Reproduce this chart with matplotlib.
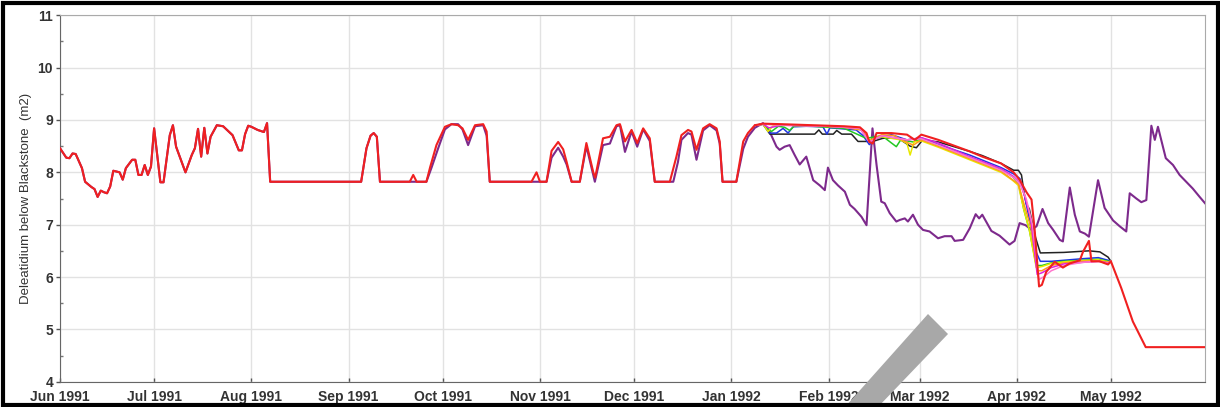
import numpy as np
import matplotlib
matplotlib.use("Agg")
import matplotlib.pyplot as plt
import matplotlib.dates as mdates
from matplotlib.patches import Rectangle, Polygon
from matplotlib.ticker import MultipleLocator

plt.rcParams['font.family'] = ['Liberation Sans', 'DejaVu Sans']

START = '1991-06-01'   # day 0 of all day lists below
END_DAY = 365          # 31 May 1992

# ---- common trace (all scenarios identical), Jun - Sep 1991 ----
common_day = [0, 2, 3, 4, 5, 7, 8, 10, 11, 12, 13, 14, 15, 16, 17, 19, 20, 21, 23, 24,
              25, 26, 27, 28, 29, 30, 32, 33, 35, 36, 37, 40, 42, 43, 44, 45, 46, 47,
              48, 50, 52, 55, 57, 58, 59, 60, 61, 63, 65, 66, 67, 96, 97.7, 99, 100,
              101, 102]
common_val = [8.46, 8.28, 8.27, 8.36, 8.35, 8.08, 7.82, 7.72, 7.68, 7.53, 7.65, 7.62, 7.60,
              7.73, 8.03, 8.00, 7.86, 8.08, 8.24, 8.24, 7.95, 7.95, 8.14, 7.95, 8.11, 8.84,
              7.81, 7.81, 8.71, 8.90, 8.49, 8.00, 8.33, 8.46, 8.83, 8.30, 8.85, 8.36, 8.68,
              8.90, 8.88, 8.71, 8.42, 8.42, 8.73, 8.89, 8.87, 8.81, 8.77, 8.94, 7.82, 7.82,
              8.46, 8.70, 8.75, 8.68, 7.82]

# ---- red scenario ----
red_day = [111.5, 112.6, 113.7, 116.8, 118, 120, 122.7, 124.8, 126.9, 128.3, 130.1, 132.3,
           134.9, 136, 137, 150.3, 151.9, 153, 155.1, 156.7, 158.8, 160.4, 161.5, 163.1,
           165.7, 167.8, 170, 170.6, 173.1, 175.3, 177.4, 178.5, 180.1, 182.2, 184, 185.9,
           188, 189.6, 194.4, 196.5, 198.1, 200.2, 201.3, 202.9, 205, 207.1, 209.3, 210.3,
           211.2, 215.6, 217.8, 219.3, 221.5, 224.1, 230, 240, 250, 255, 257.1, 258, 259.1,
           260.3, 265, 270, 272.5, 274.6, 280, 290, 294, 300, 304, 306, 308.1, 309.7, 310.7,
           312.1, 313, 314.4, 317.1, 319.7, 321.9, 325.1, 326.1, 328, 328.8, 331.4, 334.1,
           335, 338.3, 342, 346.1, 365]
red_val = [7.82, 7.95, 7.82, 7.82, 8.10, 8.52, 8.87, 8.92, 8.90, 8.84, 8.62, 8.90,
           8.92, 8.78, 7.82, 7.82, 8.00, 7.82, 7.82, 8.41, 8.58, 8.44, 8.20, 7.82,
           7.82, 8.56, 8.00, 7.90, 8.65, 8.68, 8.90, 8.92, 8.59, 8.81, 8.56, 8.84,
           8.65, 7.82, 7.82, 8.30, 8.71, 8.81, 8.78, 8.43, 8.84, 8.92, 8.84, 8.59,
           7.82, 7.82, 8.59, 8.75, 8.90, 8.93, 8.92, 8.90, 8.88, 8.86, 8.75, 8.58, 8.55,
           8.75, 8.75, 8.72, 8.62, 8.72, 8.62, 8.40, 8.30, 8.17, 8.00, 7.85, 7.62, 7.48, 6.90,
           5.82, 5.85, 6.10, 6.29, 6.18, 6.26, 6.32, 6.48, 6.69, 6.30, 6.30, 6.24,
           6.30, 5.79, 5.15, 4.66, 4.66]

# ---- purple scenario ----
purple_day = [116.8, 118.5, 120.5, 122.7, 124.8, 126.9, 128.3, 130.1, 132.3, 134.9, 136, 137,
              155.1, 156.7, 158.8, 160.4, 161.5, 163.1, 165.7, 167.8, 170.5, 173.1, 175.3,
              177.4, 178.5, 180.1, 182.2, 184, 185.9, 188, 189.6, 195.5, 197, 198.1, 200.2,
              201.3, 202.9, 205, 207.1, 209.3, 210.3, 211.2, 215.6, 217.8, 219.3, 221.5,
              224.1, 226.2, 228.4, 229.4, 231, 232.6, 234.2, 235.8, 237.9, 240.1, 242.2,
              243.8, 244.8, 246.4, 248, 250.2, 251.8, 253.3, 255.5, 257.1, 259, 260.3, 261.8,
              262.9, 264.5, 266.6, 267.7, 269.3, 270.3, 271.9, 273.5, 275.1, 277.2, 279.9,
              282, 284.2, 285.2, 287.9, 290, 291.9, 293, 294, 296.9, 299.5, 302.7, 304.3,
              305.9, 307.8, 309.7, 311.3, 313.2, 315, 316.6, 318.7, 319.7, 321.9, 323.5,
              325.1, 326.7, 328, 330.9, 333, 335.7, 337.8, 339.9, 341, 343.1, 344.7, 346.3,
              347.9, 349, 350, 352.5, 354.8, 356.9, 359, 361.1, 363.3, 365]
purple_val = [7.82, 8.10, 8.45, 8.82, 8.92, 8.92, 8.82, 8.52, 8.88, 8.90, 8.70, 7.82,
              7.82, 8.28, 8.47, 8.30, 8.15, 7.82, 7.82, 8.50, 7.82, 8.52, 8.55,
              8.88, 8.90, 8.39, 8.78, 8.49, 8.82, 8.60, 7.82, 7.82, 8.20, 8.62, 8.75,
              8.72, 8.24, 8.80, 8.90, 8.80, 8.55, 7.82, 7.82, 8.45, 8.68, 8.85,
              8.94, 8.78, 8.49, 8.43, 8.49, 8.52, 8.33, 8.15, 8.30, 7.85, 7.75,
              7.66, 8.09, 7.85, 7.75, 7.63, 7.38, 7.30, 7.15, 6.99, 8.84, 8.14, 7.44,
              7.41, 7.22, 7.06, 7.09, 7.12, 7.06, 7.19, 7.00, 6.90, 6.87, 6.74,
              6.78, 6.78, 6.69, 6.71, 6.93, 7.20, 7.12, 7.19, 6.88, 6.79, 6.62, 6.69,
              7.03, 6.99, 6.90, 6.97, 7.30, 7.03, 6.90, 6.71, 6.68, 7.71, 7.19,
              6.87, 6.83, 6.77, 7.85, 7.32, 7.08, 6.97, 6.87, 7.60, 7.50, 7.43, 7.47,
              8.89, 8.62, 8.87, 8.27, 8.14, 7.95, 7.82, 7.69, 7.53, 7.41]

# ---- other scenarios, Jan - May 1992 (identical to red before) ----
black_day = [221.5, 224.1, 226.3, 240.6, 241.9, 243.0, 246.5, 247.6, 249.2, 252.3, 254.4,
             259.1, 262.3, 266.0, 268.0, 271.0, 273.0, 275.0, 280.0, 290.0, 294.0, 300.0,
             304.0, 305.5, 306.5, 307.3, 308.0, 309.0, 311.0, 312.5, 320.0, 328.0, 331.5,
             334.1, 335.0]
black_val = [8.90, 8.92, 8.73, 8.73, 8.81, 8.73, 8.73, 8.80, 8.73, 8.73, 8.59,
             8.59, 8.65, 8.66, 8.62, 8.50, 8.47, 8.62, 8.58, 8.40, 8.32, 8.17,
             8.04, 8.04, 7.95, 7.62, 7.40, 7.30, 6.75, 6.46, 6.47, 6.50, 6.48,
             6.38, 6.30]

blue_day = [221.5, 224.1, 226.3, 228.4, 230.5, 232.1, 233.7, 237.9, 243.2, 244.5, 245.4,
            253.8, 256.0, 258.0, 260.1, 265.0, 270.0, 274.6, 280.0, 290.0, 300.0, 304.0,
            306.0, 307.5, 309.0, 311.0, 312.5, 316.0, 320.0, 326.0, 331.0, 334.1, 335.0]
blue_val = [8.90, 8.92, 8.75, 8.75, 8.84, 8.75, 8.87, 8.88, 8.87, 8.73, 8.85,
            8.81, 8.70, 8.53, 8.65, 8.72, 8.62, 8.66, 8.53, 8.33, 8.09, 7.97,
            7.88, 7.55, 7.10, 6.50, 6.30, 6.30, 6.32, 6.35, 6.37, 6.32, 6.30]

green_day = [221.5, 224.1, 226.8, 229, 231, 232.6, 234, 240, 250, 257, 262, 266.6, 268,
             272, 274.6, 280, 290, 300, 303.6, 305.5, 307.2, 309, 311.2, 313, 316, 320,
             326, 331, 334.1, 335]
green_val = [8.90, 8.92, 8.78, 8.88, 8.86, 8.80, 8.88, 8.88, 8.84, 8.65, 8.70, 8.49, 8.62,
             8.58, 8.64, 8.50, 8.28, 8.05, 7.92, 7.80, 7.30, 6.90, 6.22, 6.22, 6.27, 6.30,
             6.32, 6.34, 6.30, 6.30]

yellow_day = [221.5, 224.1, 225.7, 227.5, 235, 245, 255, 258, 262, 268, 270, 271.0, 272.2,
              274.6, 280, 290, 300, 303.6, 305.5, 307.2, 309, 311.2, 313, 316, 320, 326,
              331, 334.1, 335]
yellow_val = [8.90, 8.92, 8.78, 8.90, 8.90, 8.88, 8.85, 8.62, 8.68, 8.62, 8.55, 8.33, 8.58,
              8.60, 8.48, 8.24, 8.00, 7.85, 7.75, 7.30, 6.90, 6.18, 6.20, 6.26, 6.29, 6.31,
              6.33, 6.29, 6.30]

orange_day = [221.5, 224.1, 230, 240, 250, 256, 258, 262, 266, 269, 272, 274.6, 280, 290,
              300, 303.6, 305.5, 307.5, 309.5, 311.5, 313, 316, 320, 326, 331, 334.1, 335]
orange_val = [8.90, 8.92, 8.91, 8.89, 8.86, 8.80, 8.60, 8.72, 8.70, 8.60, 8.52, 8.62, 8.50,
              8.26, 8.02, 7.86, 7.78, 7.35, 6.95, 6.12, 6.12, 6.22, 6.27, 6.30, 6.31, 6.28,
              6.30]

magenta_day = [221.5, 224.1, 226, 230, 245, 255, 258, 262, 270, 274.6, 277, 280, 290, 300,
               304, 306, 307.5, 309.5, 311.5, 313, 316, 320, 326, 331, 334.1, 335]
magenta_val = [8.90, 8.92, 8.85, 8.90, 8.88, 8.84, 8.58, 8.70, 8.62, 8.66, 8.62, 8.56, 8.30,
               8.07, 7.92, 7.80, 7.55, 7.10, 6.05, 6.08, 6.18, 6.25, 6.28, 6.30, 6.27, 6.30]

pink_day = [221.5, 224.1, 230, 245, 255, 258, 262, 270, 274.6, 280, 290, 300, 304, 306,
            308, 310, 312, 313.5, 316, 320, 326, 331, 334.1, 335]
pink_val = [8.90, 8.92, 8.90, 8.88, 8.84, 8.58, 8.70, 8.62, 8.64, 8.52, 8.28, 8.04, 7.90,
            7.78, 7.50, 7.00, 5.95, 6.00, 6.12, 6.22, 6.28, 6.30, 6.26, 6.30]

y_label = 'Deleatidium below Blackstone  (m2)'

# ------------------------------------------------------------------
W, H = 1220, 407
fig = plt.figure(figsize=(W / 100, H / 100), dpi=100)
ax = fig.add_axes([60 / W, 1 - 381.7 / H, (1205 - 60) / W, (381.7 - 15.3) / H])

base = mdates.date2num(np.datetime64(START))


def xs(days):
    return base + np.asarray(days, dtype=float)


purple_x = np.concatenate([xs(common_day), xs(purple_day)])
purple_y = np.concatenate([common_val, purple_val])
red_x = np.concatenate([xs(common_day), xs(red_day)])
red_y = np.concatenate([common_val, red_val])

ax.plot(purple_x, purple_y, color='#7d2a8c', lw=1.5, zorder=3)
for d, v, c in [(black_day, black_val, '#222222'),
                (blue_day, blue_val, '#1f35e0'),
                (green_day, green_val, '#22c822'),
                (yellow_day, yellow_val, '#e8e800'),
                (orange_day, orange_val, '#ff9a1a'),
                (magenta_day, magenta_val, '#e020e0'),
                (pink_day, pink_val, '#ff77cc')]:
    ax.plot(xs(d), v, color=c, lw=1.1, zorder=4)
ax.plot(red_x, red_y, color='#f02020', lw=1.5, zorder=5)

ax.set_xlim(base, base + END_DAY)
ax.set_ylim(4, 11)
ax.xaxis.set_major_locator(mdates.MonthLocator())
ax.xaxis.set_major_formatter(mdates.DateFormatter('%b %Y'))
ax.yaxis.set_major_locator(MultipleLocator(1))
ax.yaxis.set_minor_locator(MultipleLocator(0.5))
ax.grid(True, which='major', color='#e2e2e2', lw=1.0)
ax.set_axisbelow(True)

ax.tick_params(axis='x', which='major', direction='in', length=3, width=1,
               color='#555555', labelsize=10, labelcolor='#333333', pad=6)
ax.tick_params(axis='y', which='major', direction='out', length=3, width=1,
               color='#555555', labelsize=10, labelcolor='#333333', pad=2)
ax.tick_params(axis='y', which='minor', direction='in', length=2, width=1, color='#777777')
for lab in ax.get_xticklabels() + ax.get_yticklabels():
    lab.set_fontweight('bold')

for side in ['left', 'bottom']:
    ax.spines[side].set_color('#666666')
for side in ['top', 'right']:
    ax.spines[side].set_color('#aaaaaa')

ax.set_ylabel(y_label, fontsize=9.5, color='#333333', labelpad=4)

# outer black frame
fig.patches.append(Rectangle((2.5 / W, 2.5 / H), 1 - 5 / W, 1 - 5 / H, transform=fig.transFigure,
                             fill=False, ec='black', lw=3.0, zorder=10))
# gray diagonal overlay bar
band = [(928, 314), (948, 334), (878, 407), (845, 407)]
fig.patches.append(Polygon([(x / W, 1 - y / H) for x, y in band], closed=True,
                           transform=fig.transFigure, fc='#a8a8a8', ec='none', zorder=9))

fig.savefig('out.png', dpi=100)
